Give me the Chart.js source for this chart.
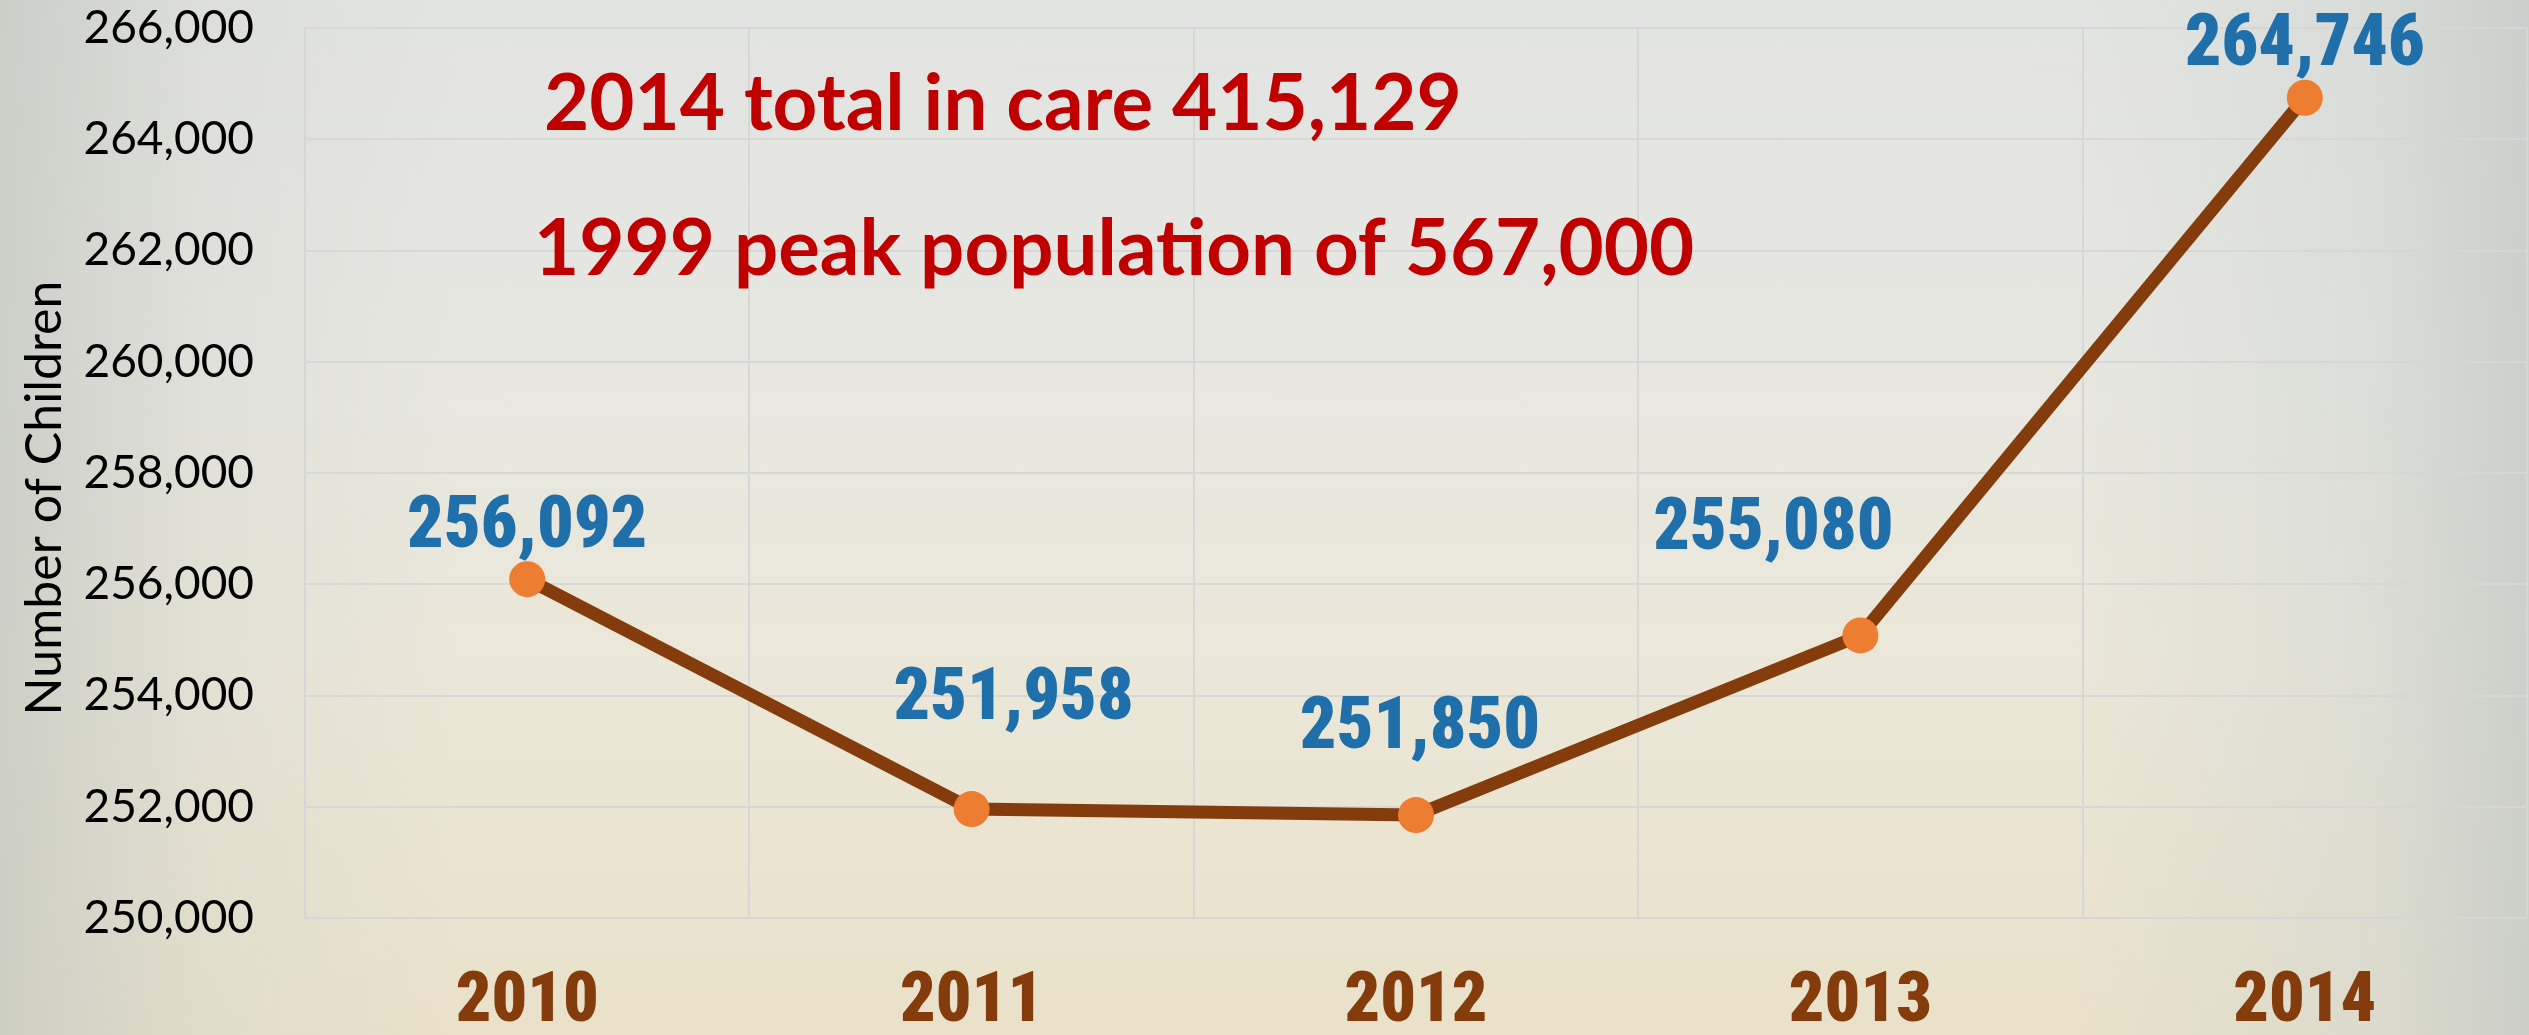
<!DOCTYPE html>
<html>
<head>
<meta charset="utf-8">
<script src="https://cdn.jsdelivr.net/npm/chart.js@4/dist/chart.umd.min.js"></script>
<style>
  html, body { margin: 0; padding: 0; overflow: hidden; }
  body {
    width: 2529px; height: 1035px;
    background:
      linear-gradient(90deg, rgba(196,200,192,0.75) 0%, rgba(210,212,204,0.35) 8%, rgba(0,0,0,0) 18%, rgba(0,0,0,0) 82%, rgba(206,212,208,0.5) 94%, rgba(196,202,198,0.8) 100%),
      linear-gradient(180deg, #e2e4e1 0%, #e7e7e1 35%, #ebe7d8 65%, #e9e1c9 100%);
  }
  canvas { display: block; }
</style>
</head>
<body>
<canvas id="chart" width="2529" height="1035"></canvas>
<script>
// chart data
const years = ['2010', '2011', '2012', '2013', '2014'];
const children = [256092, 251958, 251850, 255080, 264746];
const yMin = 250000;
const yMax = 266000;
const yStep = 2000;
const yTitle = 'Number of Children';
const notes = ['2014 total in care 415,129', '1999 peak population of 567,000'];

const gridColor = 'rgba(214,214,214,0.95)';

// where each value label sits, relative to its point (px)
const labelOffsets = [[0, -32], [42, -90], [4, -67], [-87, -86], [0, -33]];

const labelPlugin = {
    id: 'labels',
    afterDraw(chart) {
        const ctx = chart.ctx;
        const area = chart.chartArea;
        ctx.save();
        // axis title, a little below the middle like the original
        ctx.font = '50px Lato, "Open Sans", sans-serif';
        ctx.fillStyle = '#000';
        ctx.textAlign = 'center';
        ctx.textBaseline = 'middle';
        ctx.translate(45, (area.top + area.bottom) / 2 + 25);
        ctx.rotate(-Math.PI / 2);
        ctx.fillText(yTitle, 0, 0);
        ctx.restore();
    },
    afterDatasetsDraw(chart) {
        const ctx = chart.ctx;
        const area = chart.chartArea;
        const meta = chart.getDatasetMeta(0);

        ctx.save();
        // value labels
        ctx.font = '900 72px "Roboto Condensed", "Open Sans Condensed", sans-serif';
        ctx.fillStyle = '#1f6fab';
        ctx.textAlign = 'center';
        ctx.textBaseline = 'alphabetic';
        meta.data.forEach((pt, i) => {
            const off = labelOffsets[i];
            ctx.fillText(children[i].toLocaleString('en-US'), pt.x + off[0], pt.y + off[1]);
        });

        // red notes
        ctx.font = 'bold 78px Lato, "Open Sans", sans-serif';
        ctx.fillStyle = '#c00000';
        ctx.textAlign = 'left';
        ctx.fillText(notes[0], area.left + 239, area.top + 102);
        ctx.fillText(notes[1], area.left + 229, area.top + 247);
        ctx.restore();
    }
};

const ctx = document.getElementById('chart').getContext('2d');
new Chart(ctx, {
    type: 'line',
    data: {
        labels: years,
        datasets: [{
            data: children,
            borderColor: '#843c0c',
            borderWidth: 13,
            pointRadius: 18,
            pointBackgroundColor: '#ed7d31',
            pointBorderWidth: 0,
            tension: 0,
            fill: false
        }, {
            // small blue dot inside the 2012 marker
            data: children,
            showLine: false,
            pointRadius: [0, 0, 4, 0, 0],
            pointBackgroundColor: '#1f6fab',
            pointBorderWidth: 0
        }]
    },
    options: {
        responsive: false,
        devicePixelRatio: 1,
        animation: false,
        layout: { autoPadding: false, padding: { top: 28, right: 2, left: 0, bottom: 0 } },
        plugins: {
            legend: { display: false },
            tooltip: { enabled: false }
        },
        scales: {
            x: {
                offset: true,
                grid: { offset: true, color: gridColor, lineWidth: 2, drawTicks: false },
                border: { color: gridColor, width: 2 },
                ticks: {
                    color: '#843c0c',
                    padding: 43,
                    font: { family: '"Roboto Condensed", "Open Sans Condensed", sans-serif', size: 70, weight: '900' }
                },
                afterFit: s => { s.height = 117; s.paddingLeft = 0; s.paddingRight = 0; }
            },
            y: {
                min: yMin,
                max: yMax,
                grid: { color: gridColor, lineWidth: 2, drawTicks: false },
                border: { color: gridColor, width: 2 },
                ticks: {
                    stepSize: yStep,
                    color: '#000',
                    padding: 51,
                    font: { family: 'Lato, "Open Sans", sans-serif', size: 46 },
                    callback: v => v.toLocaleString('en-US')
                },
                afterFit: s => { s.width = 305; s.paddingTop = 0; s.paddingBottom = 0; }
            }
        }
    },
    plugins: [labelPlugin]
});
</script>
</body>
</html>
